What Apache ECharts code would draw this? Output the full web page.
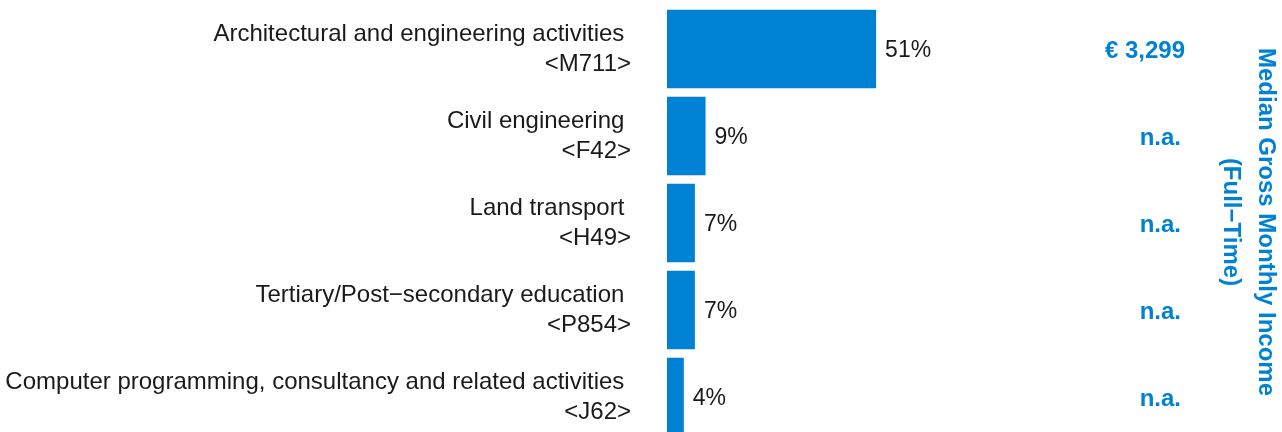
<!DOCTYPE html>
<html>
<head>
<meta charset="utf-8">
<script src="https://cdn.jsdelivr.net/npm/echarts@6/dist/echarts.min.js"></script>
<style>
  html, body { margin: 0; padding: 0; background: #fff; }
  #chart { width: 1282px; height: 432px; }
</style>
</head>
<body>
<div id="chart"></div>
<script>
const industries = [
  'Architectural and engineering activities ',
  'Civil engineering ',
  'Land transport ',
  'Tertiary/Post\u2212secondary education ',
  'Computer programming, consultancy and related activities '
]
const codes = ['<M711>', '<F42>', '<H49>', '<P854>', '<J62>']
const shares = [51.0, 9.4, 6.8, 6.8, 4.1]
const incomes = ['\u20ac 3,299', 'n.a.', 'n.a.', 'n.a.', 'n.a.']

const blue = '#0082d4'
const font = '"Liberation Sans", Arial, sans-serif'
const chart = echarts.init(document.getElementById('chart'), null, { renderer: 'canvas' })

const cats = industries.map((d, i) => d + '\n' + codes[i])

const option = {
  animation: false,
  backgroundColor: '#fff',
  grid: {
    left: 667, width: 246, top: 5.5, height: 435,
    containLabel: false, outerBoundsMode: 'none'
  },
  xAxis: { type: 'value', min: 0, max: 60, show: false },
  yAxis: [
    {
      type: 'category',
      data: cats,
      inverse: true,
      axisLine: { show: false },
      axisTick: { show: false },
      axisLabel: {
        margin: 36,
        fontFamily: font,
        fontSize: 24,
        lineHeight: 30,
        padding: [4, 0, 0, 0],
        color: '#1a1a1a',
        align: 'right'
      }
    },
    {
      type: 'category',
      data: incomes,
      inverse: true,
      position: 'right',
      axisLine: { show: false },
      axisTick: { show: false },
      axisLabel: {
        margin: 272,
        align: 'right',
        fontFamily: font,
        fontSize: 24,
        fontWeight: 'bold',
        color: blue,
        padding: [4, 0, 0, 0],
        formatter: v => v === 'n.a.' ? '{na|' + v + '}' : v,
        rich: {
          na: { fontFamily: font, fontSize: 24, fontWeight: 'bold', color: blue, padding: [0, 4, 0, 0] }
        }
      }
    }
  ],
  series: [
    {
      type: 'bar',
      data: shares,
      barCategoryGap: '10%',
      itemStyle: { color: blue },
      label: {
        show: true,
        position: 'right',
        distance: 9,
        offset: [0, 2],
        fontFamily: font,
        fontSize: 23,
        color: '#1a1a1a',
        formatter: p => Math.round(p.value) + '%'
      }
    }
  ],
  graphic: [
    {
      type: 'text',
      x: 1248,
      y: 222,
      rotation: -Math.PI / 2,
      style: {
        text: 'Median Gross Monthly Income\n(Full\u2212Time)',
        fontFamily: font,
        fontSize: 24,
        fontWeight: 'bold',
        lineHeight: 35,
        fill: blue,
        align: 'center',
        verticalAlign: 'middle'
      }
    }
  ]
}

chart.setOption(option)
</script>
</body>
</html>
